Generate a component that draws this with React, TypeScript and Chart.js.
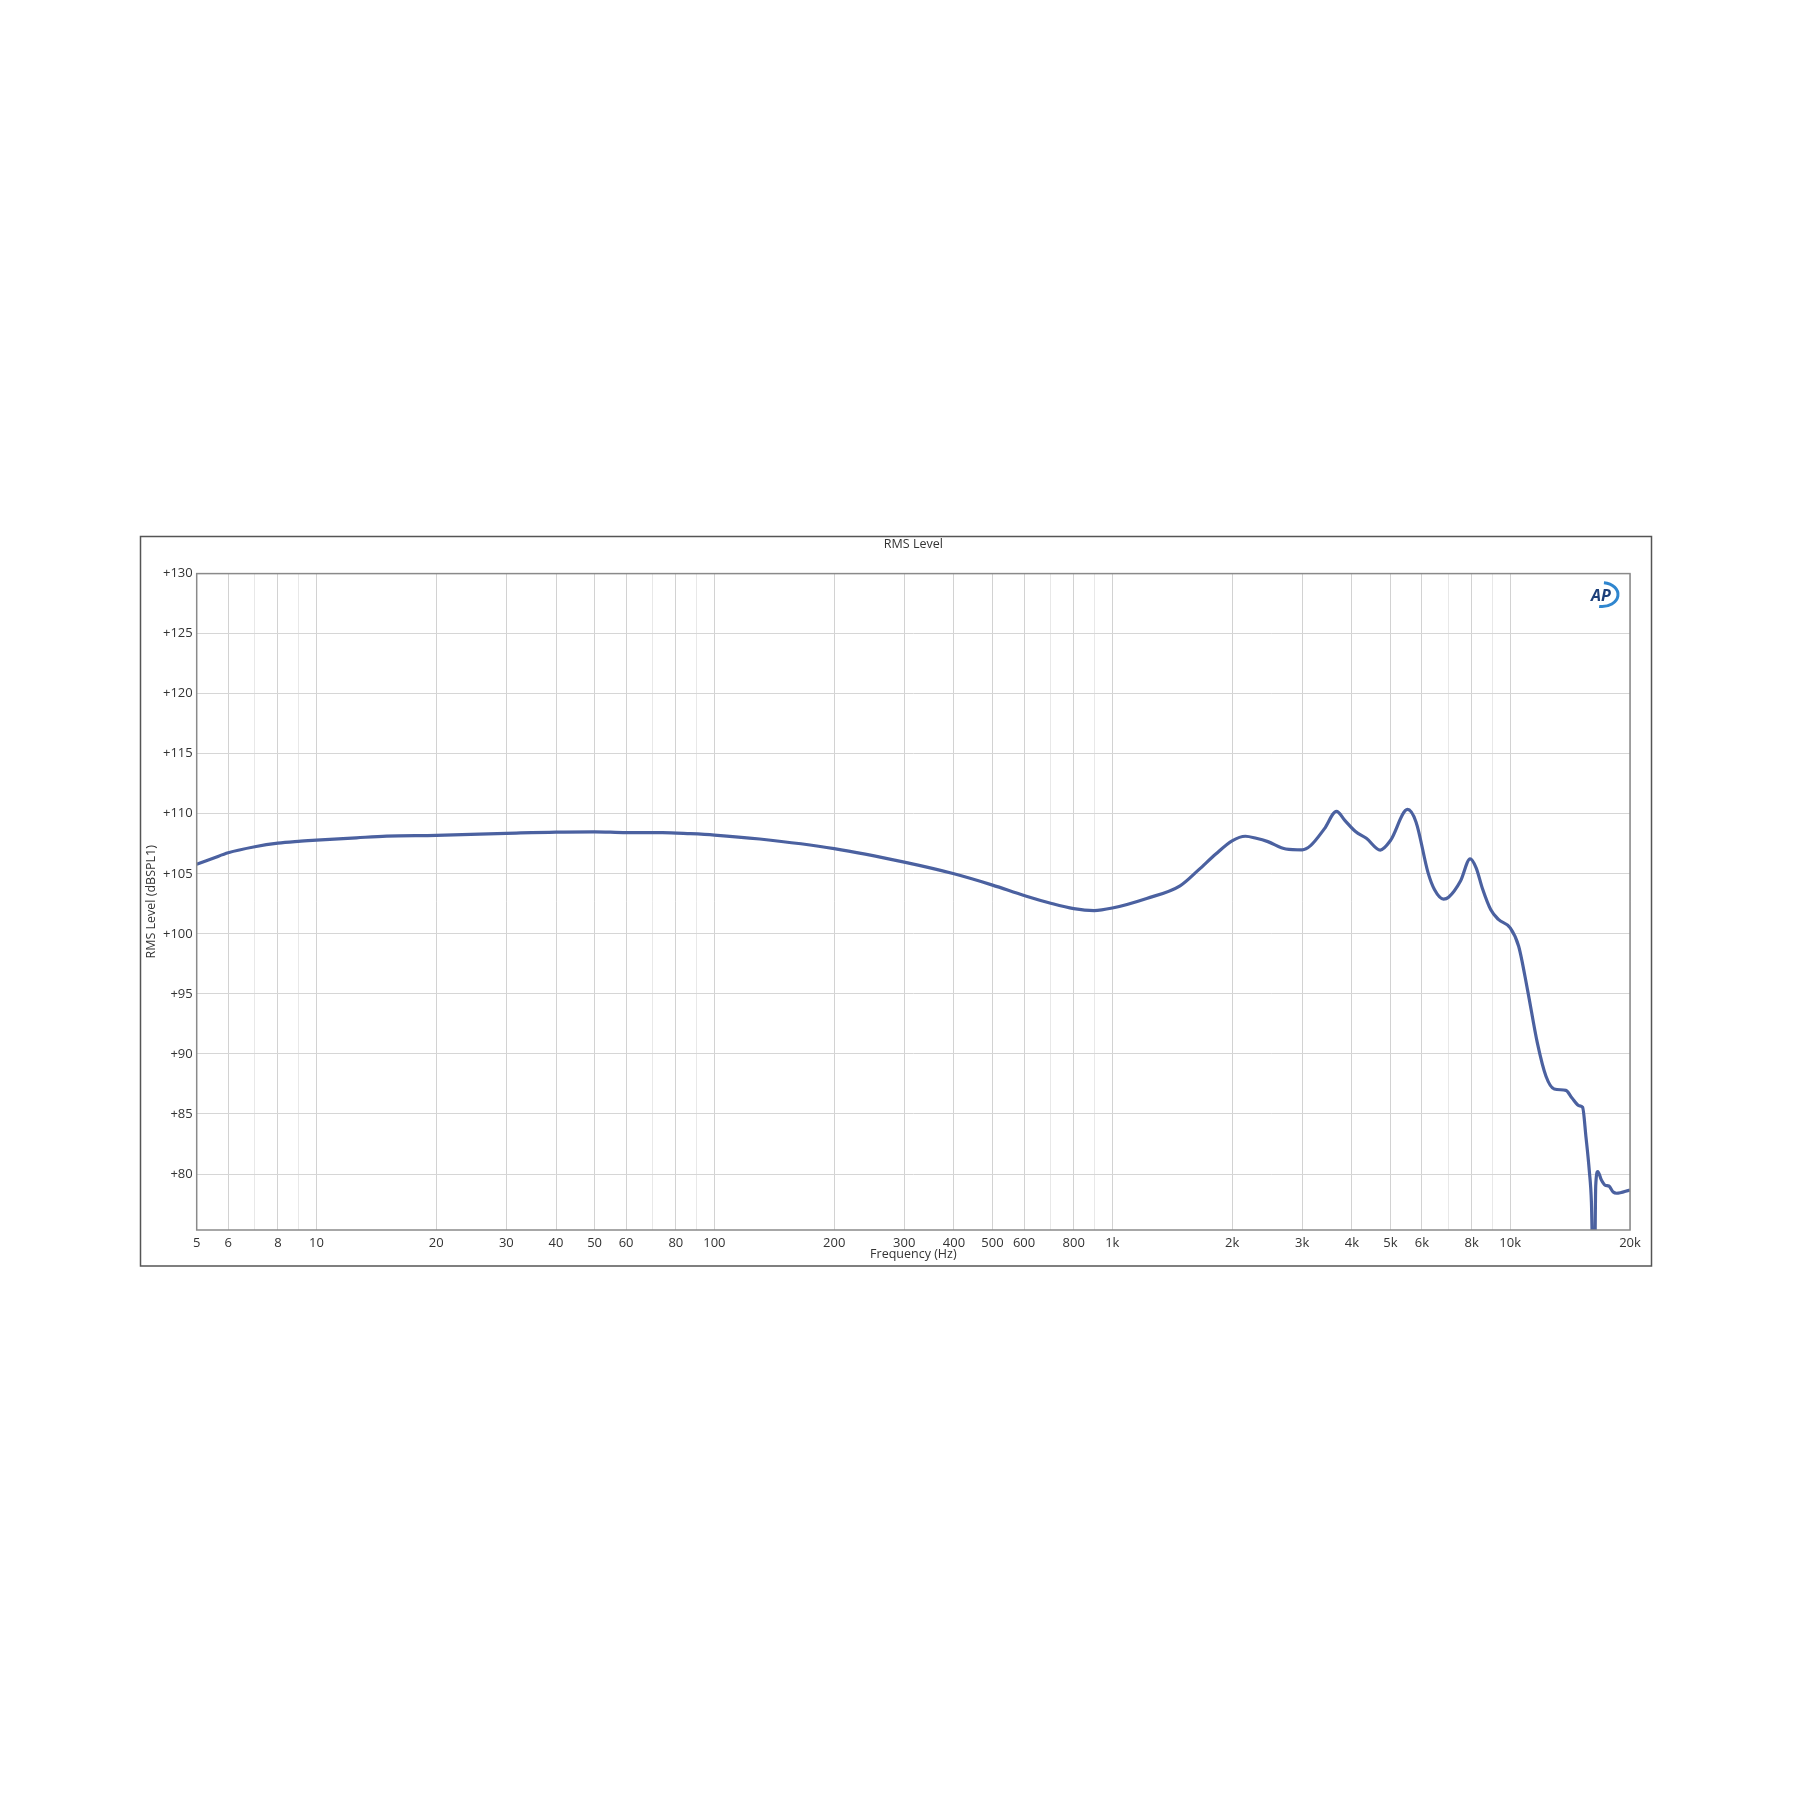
import React, { useEffect, useRef } from "react";
import { Chart, registerables } from "chart.js";

Chart.register(...registerables);

// Frequency response (Hz) and RMS level (dBSPL1)
const FREQS = [
  5, 5.5, 6, 7, 8, 9, 10, 12.6, 15, 20, 30, 40, 50, 60, 74, 87, 100, 130, 200, 300,
  400, 500, 600, 700, 800, 900, 1000, 1220, 1480, 1650, 1820, 2000, 2160, 2300, 2460,
  2730, 3000, 3150, 3410, 3660, 3840, 4085, 4350, 4715, 5000, 5520, 5800, 6215, 6450,
  6800, 7000, 7500, 7930, 8210, 8510, 8930, 9340, 10000, 10500, 11050, 11700, 12300,
  12900, 13800, 14300, 14900, 15200, 15500, 15800, 16000, 16150, 16300, 16400, 16600,
  16950, 17300, 17700, 18150, 18500, 20000,
];
const LEVELS = [
  105.8, 106.3, 106.75, 107.25, 107.55, 107.7, 107.8, 108.0, 108.14, 108.2, 108.37,
  108.48, 108.5, 108.43, 108.43, 108.34, 108.23, 107.9, 107.1, 105.97, 105.0, 104.06,
  103.2, 102.55, 102.1, 101.94, 102.15, 102.95, 104.0, 105.35, 106.65, 107.75, 108.13,
  107.96, 107.68, 107.07, 107.0, 107.35, 108.74, 110.2, 109.45, 108.52, 107.96, 106.98,
  107.77, 110.36, 109.3, 105.1, 103.7, 102.9, 103.05, 104.4, 106.25, 105.5, 103.8,
  102.03, 101.2, 100.5, 98.97, 95.36, 90.92, 88.14, 87.08, 86.97, 86.33, 85.69, 85.56,
  83.1, 80.3, 77.6, 72, 72, 79, 80.2, 79.5, 79.08, 79.0, 78.5, 78.4, 78.67,
];

const X_TICK_VALUES = [
  5, 6, 8, 10, 20, 30, 40, 50, 60, 80, 100, 200, 300, 400, 500, 600, 800, 1000, 2000,
  3000, 4000, 5000, 6000, 8000, 10000, 20000,
];
const X_TICK_LABELS = [
  "5", "6", "8", "10", "20", "30", "40", "50", "60", "80", "100", "200", "300", "400",
  "500", "600", "800", "1k", "2k", "3k", "4k", "5k", "6k", "8k", "10k", "20k",
];
const X_MINOR_VALUES = [7, 9, 70, 90, 700, 900, 7000, 9000];
const Y_TICK_VALUES = [80, 85, 90, 95, 100, 105, 110, 115, 120, 125, 130];

const FONT = '"Open Sans", "DejaVu Sans", sans-serif';
const TEXT_COLOR = "#333333";
const LINE_COLOR = "#4b61a0";

const framePlugin = {
  id: "apFrame",
  beforeDraw(chart: any) {
    const { ctx } = chart;
    ctx.save();
    ctx.fillStyle = "#ffffff";
    ctx.fillRect(0, 0, chart.width, chart.height);
    ctx.strokeStyle = "#555555";
    ctx.lineWidth = 1.5;
    ctx.strokeRect(140.5, 536.5, 1511, 729.5);
    ctx.restore();
  },
  afterDraw(chart: any) {
    const { ctx, chartArea } = chart;
    const { left, top, right, bottom } = chartArea;
    ctx.save();
    ctx.strokeStyle = "#8a8a8a";
    ctx.lineWidth = 1.5;
    ctx.strokeRect(left, top, right - left, bottom - top);
    // AP logo
    ctx.beginPath();
    ctx.ellipse(right - 28, top + 21, 16, 12, 0, -1.45, 1.75);
    ctx.strokeStyle = "#2f86cf";
    ctx.lineWidth = 3;
    ctx.stroke();
    ctx.fillStyle = "#1c3f7a";
    ctx.font = `italic bold 16px ${FONT}`;
    ctx.textBaseline = "alphabetic";
    ctx.textAlign = "left";
    ctx.fillText("AP", right - 39, top + 27.5);
    ctx.restore();
  },
};

export default function App() {
  const ref = useRef<HTMLCanvasElement | null>(null);

  useEffect(() => {
    if (!ref.current) return;
    const data = FREQS.map((f, i) => ({ x: f, y: LEVELS[i] }));
    const chart = new Chart(ref.current, {
      type: "line",
      data: {
        datasets: [
          {
            data,
            borderColor: LINE_COLOR,
            borderWidth: 3.2,
            pointRadius: 0,
            fill: false,
            cubicInterpolationMode: "monotone",
          },
        ],
      },
      options: {
        responsive: false,
        animation: false,
        devicePixelRatio: 1,
        layout: { padding: { left: 141, top: 537, right: 170, bottom: 536 } },
        plugins: {
          legend: { display: false },
          tooltip: { enabled: false },
          title: {
            display: true,
            text: "RMS Level",
            fullSize: false,
            color: TEXT_COLOR,
            font: { family: FONT, size: 12.5, weight: "normal" },
            padding: { top: 0, bottom: 21.6 },
          },
        },
        scales: {
          x: {
            type: "logarithmic",
            min: 5,
            max: 20000,
            border: { display: false },
            grid: {
              drawTicks: false,
              color: (c: any) =>
                c.tick && X_TICK_VALUES.includes(c.tick.value) ? "#d2d2d2" : "#e8e8e8",
              lineWidth: 1,
            },
            afterBuildTicks: (scale: any) => {
              scale.ticks = [...X_TICK_VALUES, ...X_MINOR_VALUES]
                .sort((a, b) => a - b)
                .map((v) => ({ value: v }));
            },
            afterFit: (scale: any) => {
              scale.height = 34;
            },
            ticks: {
              autoSkip: false,
              maxRotation: 0,
              padding: 5,
              color: TEXT_COLOR,
              font: { family: FONT, size: 13 },
              callback: (v: any) => {
                const i = X_TICK_VALUES.indexOf(Number(v));
                return i >= 0 ? X_TICK_LABELS[i] : "";
              },
            },
            title: {
              display: true,
              text: "Frequency (Hz)",
              color: TEXT_COLOR,
              font: { family: FONT, size: 12.5 },
              padding: { top: 0, bottom: 2 },
            },
          },
          y: {
            type: "linear",
            min: 75.34,
            max: 130,
            border: { display: false },
            grid: { drawTicks: false, color: "#d6d6d6", lineWidth: 1 },
            afterBuildTicks: (scale: any) => {
              scale.ticks = Y_TICK_VALUES.map((v) => ({ value: v }));
            },
            afterFit: (scale: any) => {
              scale.width = 55.7;
            },
            ticks: {
              padding: 4,
              color: TEXT_COLOR,
              font: { family: FONT, size: 13 },
              callback: (v: any) => "+" + v,
            },
            title: {
              display: true,
              text: "RMS Level (dBSPL1)",
              color: TEXT_COLOR,
              font: { family: FONT, size: 12.5 },
              padding: { top: 3, bottom: 0 },
            },
          },
        },
      },
      plugins: [framePlugin],
    } as any);
    return () => chart.destroy();
  }, []);

  return (
    <div style={{ position: "absolute", left: 0, top: 0, width: 1800, height: 1800, background: "#fff" }}>
      <canvas ref={ref} width={1800} height={1800} style={{ display: "block" }} />
    </div>
  );
}
